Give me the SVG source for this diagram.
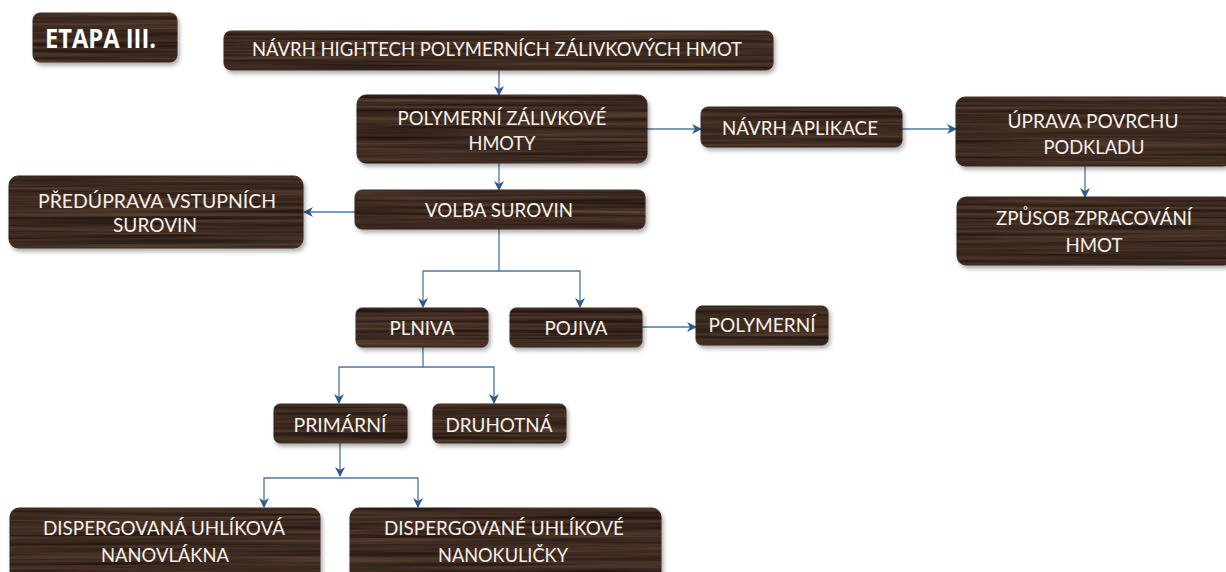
<svg xmlns="http://www.w3.org/2000/svg" width="1226" height="572" viewBox="0 0 1226 572">
  <style>
    .box { fill: #3a281d; stroke: #4e3b2c; stroke-width: 1; filter: url(#wood); }
    .t { font-family: Lato, "Open Sans", "Liberation Sans", sans-serif; font-size: 19px; fill: #f6f1ea; text-anchor: middle; }
    .title { font-family: "Open Sans", "Liberation Sans", sans-serif; font-size: 27px; font-weight: bold; fill: #ffffff; }
    .conn { fill: none; stroke: #4f77a0; stroke-width: 1.3; }
    .arr { marker-end: url(#head); }
  </style>
  <defs>
    <!-- wood grain fill clipped to the box, plus a soft drop shadow -->
    <filter id="wood" x="-4%" y="-10%" width="110%" height="135%" color-interpolation-filters="sRGB">
      <feTurbulence type="fractalNoise" baseFrequency="0.004 0.3" numOctaves="3" seed="7" result="noise"/>
      <feColorMatrix in="noise" type="matrix" result="grain"
        values="0.34 0 0 0 0.068
                0.26 0 0 0 0.036
                0.18 0 0 0 0.036
                0 0 0 0 1"/>
      <feComposite in="grain" in2="SourceGraphic" operator="in" result="woodfill"/>
      <feGaussianBlur in="SourceAlpha" stdDeviation="2.2" result="blur"/>
      <feOffset in="blur" dx="2" dy="3" result="off"/>
      <feFlood flood-color="#000000" flood-opacity="0.33"/>
      <feComposite in2="off" operator="in" result="shadow"/>
      <feMerge>
        <feMergeNode in="shadow"/>
        <feMergeNode in="woodfill"/>
      </feMerge>
    </filter>
    <marker id="head" viewBox="0 0 10 10" refX="9" refY="5" markerWidth="10" markerHeight="10" markerUnits="userSpaceOnUse" orient="auto">
      <path d="M0,0 L10,5 L0,10 L3,5 Z" fill="#2d5c8c"/>
    </marker>
  </defs>

  <!-- connectors -->
  <g id="connectors">
    <path class="conn arr" d="M499,70 V95"/>
    <path class="conn arr" d="M647,129 H701"/>
    <path class="conn arr" d="M902,129 H956"/>
    <path class="conn arr" d="M1085,166 V197"/>
    <path class="conn arr" d="M499,163 V190"/>
    <path class="conn arr" d="M355,212 H304"/>
    <path class="conn arr" d="M499,229 V271 H423 V307"/>
    <path class="conn arr" d="M499,271 H580 V307"/>
    <path class="conn arr" d="M642,327 H696"/>
    <path class="conn arr" d="M423,347 V367 H339 V403"/>
    <path class="conn arr" d="M423,367 H494 V403"/>
    <path class="conn arr" d="M340,443 V476"/>
    <path class="conn arr" d="M340,478 H264 V507"/>
    <path class="conn arr" d="M340,478 H418 V507"/>
  </g>

  <g id="etapa">
    <rect class="box" x="33" y="13" width="144" height="49" rx="7"/>
    <text class="title" x="45" y="48" textLength="111" lengthAdjust="spacingAndGlyphs">ETAPA III.</text>
  </g>

  <g id="navrh-hmot">
    <rect class="box" x="224" y="31" width="549" height="39" rx="7"/>
    <text class="t" x="497" y="56" textLength="490" lengthAdjust="spacingAndGlyphs">NÁVRH HIGHTECH POLYMERNÍCH ZÁLIVKOVÝCH HMOT</text>
  </g>

  <g id="polymerni-hmoty">
    <rect class="box" x="357" y="95" width="290" height="68" rx="9"/>
    <text class="t" x="502" y="125" textLength="209" lengthAdjust="spacingAndGlyphs">POLYMERNÍ ZÁLIVKOVÉ</text>
    <text class="t" x="502" y="150" textLength="67" lengthAdjust="spacingAndGlyphs">HMOTY</text>
  </g>

  <g id="navrh-aplikace">
    <rect class="box" x="701" y="107" width="201" height="40" rx="7"/>
    <text class="t" x="800" y="135" textLength="156" lengthAdjust="spacingAndGlyphs">NÁVRH APLIKACE</text>
  </g>

  <g id="uprava-povrchu">
    <rect class="box" x="956" y="97" width="276" height="69" rx="9"/>
    <text class="t" x="1093" y="128" textLength="171" lengthAdjust="spacingAndGlyphs">ÚPRAVA POVRCHU</text>
    <text class="t" x="1094" y="154" textLength="101" lengthAdjust="spacingAndGlyphs">PODKLADU</text>
  </g>

  <g id="zpusob-zpracovani">
    <rect class="box" x="957" y="197" width="276" height="68" rx="9"/>
    <text class="t" x="1094" y="225" textLength="196" lengthAdjust="spacingAndGlyphs">ZPŮSOB ZPRACOVÁNÍ</text>
    <text class="t" x="1094" y="252" textLength="57" lengthAdjust="spacingAndGlyphs">HMOT</text>
  </g>

  <g id="predprava">
    <rect class="box" x="9" y="176" width="294" height="72" rx="9"/>
    <text class="t" x="157" y="208" textLength="238" lengthAdjust="spacingAndGlyphs">PŘEDÚPRAVA VSTUPNÍCH</text>
    <text class="t" x="155" y="232" textLength="84" lengthAdjust="spacingAndGlyphs">SUROVIN</text>
  </g>

  <g id="volba-surovin">
    <rect class="box" x="355" y="190" width="290" height="39" rx="7"/>
    <text class="t" x="499" y="217" textLength="148" lengthAdjust="spacingAndGlyphs">VOLBA SUROVIN</text>
  </g>

  <g id="plniva">
    <rect class="box" x="356" y="308" width="132" height="39" rx="6"/>
    <text class="t" x="422" y="335" textLength="65" lengthAdjust="spacingAndGlyphs">PLNIVA</text>
  </g>

  <g id="pojiva">
    <rect class="box" x="510" y="308" width="132" height="39" rx="6"/>
    <text class="t" x="576" y="335" textLength="63" lengthAdjust="spacingAndGlyphs">POJIVA</text>
  </g>

  <g id="polymerni">
    <rect class="box" x="696" y="306" width="132" height="39" rx="6"/>
    <text class="t" x="762" y="332" textLength="107" lengthAdjust="spacingAndGlyphs">POLYMERNÍ</text>
  </g>

  <g id="primarni">
    <rect class="box" x="274" y="404" width="133" height="39" rx="6"/>
    <text class="t" x="340" y="432" textLength="93" lengthAdjust="spacingAndGlyphs">PRIMÁRNÍ</text>
  </g>

  <g id="druhotna">
    <rect class="box" x="433" y="404" width="133" height="39" rx="6"/>
    <text class="t" x="499" y="432" textLength="107" lengthAdjust="spacingAndGlyphs">DRUHOTNÁ</text>
  </g>

  <g id="nanovlakna">
    <rect class="box" x="10" y="508" width="310" height="72" rx="9"/>
    <text class="t" x="164" y="535" textLength="242" lengthAdjust="spacingAndGlyphs">DISPERGOVANÁ UHLÍKOVÁ</text>
    <text class="t" x="165" y="562" textLength="128" lengthAdjust="spacingAndGlyphs">NANOVLÁKNA</text>
  </g>

  <g id="nanokulicky">
    <rect class="box" x="350" y="508" width="311" height="72" rx="9"/>
    <text class="t" x="504" y="535" textLength="240" lengthAdjust="spacingAndGlyphs">DISPERGOVANÉ UHLÍKOVÉ</text>
    <text class="t" x="503" y="562" textLength="130" lengthAdjust="spacingAndGlyphs">NANOKULIČKY</text>
  </g>
</svg>
